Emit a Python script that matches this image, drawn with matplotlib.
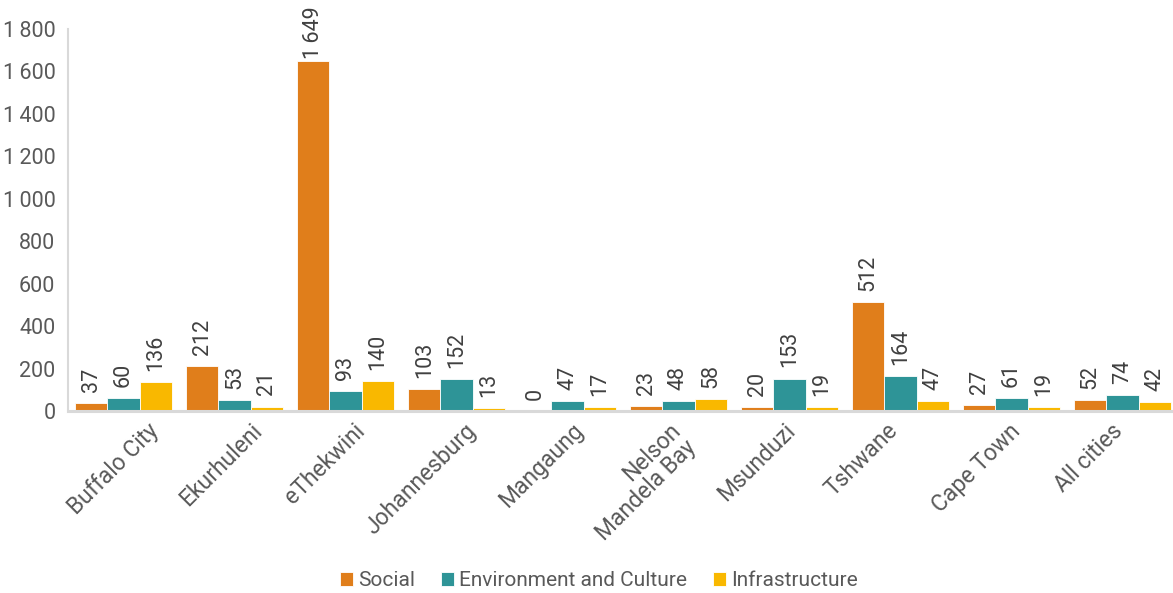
import matplotlib
matplotlib.use("Agg")
import matplotlib.pyplot as plt
import numpy as np
from matplotlib.ticker import FuncFormatter

plt.rcParams['font.family'] = ['Roboto', 'DejaVu Sans']

cities = ["Buffalo City", "Ekurhuleni", "eThekwini", "Johannesburg", "Mangaung",
          "Nelson\nMandela Bay", "Msunduzi", "Tshwane", "Cape Town", "All cities"]
social = [37, 212, 1649, 103, 0, 23, 20, 512, 27, 52]
environment = [60, 53, 93, 152, 47, 48, 153, 164, 61, 74]
infrastructure = [136, 21, 140, 13, 17, 58, 19, 47, 19, 42]

series = [("Social", social, "#E07E1B"),
          ("Environment and Culture", environment, "#2E9497"),
          ("Infrastructure", infrastructure, "#F9B800")]

text_color = "#595959"
W, H, DPI = 1173, 593, 100
slot_px = 111            # width of one category slot in pixels
# horizontal nudge (pixels) of each rotated category label's end point
label_shift_px = [24, 16, 8, 8, 4, -10, -6, -14, -3, -12]


def fmt(v):
    return f"{int(v):,}".replace(",", "\u2009")


fig = plt.figure(figsize=(W / DPI, H / DPI), dpi=DPI)
ax = fig.add_axes([68 / W, 182 / H, (W - 68) / W, (411 - 29) / H])

x = np.arange(len(cities))
w = 0.291
label_off = 8
anns = []
for k, (name, vals, col) in enumerate(series):
    pos = x + (k - 1) * w
    bars = ax.bar(pos, vals, width=w, color=col, edgecolor="white", linewidth=0.6, label=name)
    for b, v in zip(bars, vals):
        a = ax.annotate(fmt(v), (b.get_x() + b.get_width() / 2, v), xytext=(0, label_off),
                        textcoords="offset points", rotation=90, ha="center", va="bottom",
                        fontsize=15.5, color="#404040", annotation_clip=False)
        anns.append(a)

ax.set_ylim(0, 1800)
ax.set_xlim(-0.5, -0.5 + (W - 68) / slot_px)
ax.set_yticks(range(0, 1801, 200))
ax.yaxis.set_major_formatter(FuncFormatter(lambda v, p: fmt(v)))
ax.set_xticks(x + np.array(label_shift_px) / slot_px)
ax.set_xticklabels(cities, rotation=45, ha="right", va="top", rotation_mode="anchor",
                   fontsize=16.5, color=text_color, linespacing=1.0)
ax.tick_params(axis="y", labelsize=15.5, labelcolor=text_color, length=0, pad=9)
ax.tick_params(axis="x", length=0, pad=6)

for s in ["top", "right"]:
    ax.spines[s].set_visible(False)
ax.spines["left"].set_color("#D9D9D9")
ax.spines["left"].set_linewidth(1.5)
ax.spines["bottom"].set_color("#D9D9D9")
ax.spines["bottom"].set_linewidth(2.2)

fig.legend(loc="center", bbox_to_anchor=(0.5105, 12 / H), ncol=3, frameon=False,
           fontsize=15, labelcolor=text_color, handlelength=0.62, handleheight=0.62,
           handletextpad=0.25, columnspacing=1.25, borderpad=0)

# keep value labels inside the canvas: push down any that run past the top edge
fig.canvas.draw()
renderer = fig.canvas.get_renderer()
for a in anns:
    bb = a.get_window_extent(renderer)
    limit = fig.bbox.height - 6
    if bb.y1 > limit:
        a.xyann = (0, label_off - (bb.y1 - limit) * 72 / DPI)

fig.savefig("out.png", dpi=DPI)
